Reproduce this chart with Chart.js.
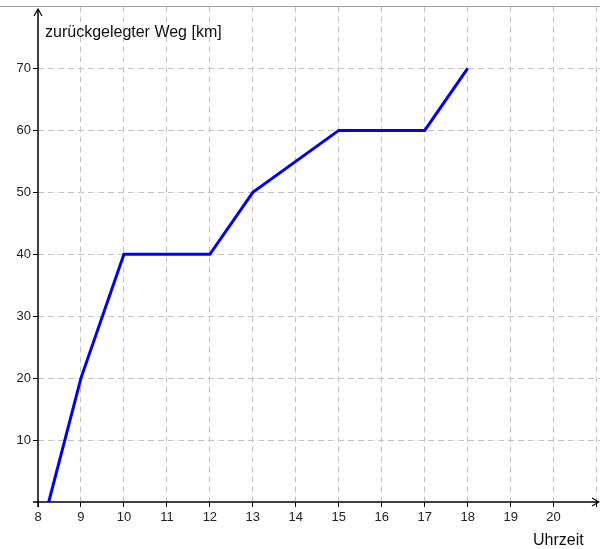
<!DOCTYPE html>
<html>
<head>
<meta charset="utf-8">
<script src="https://cdn.jsdelivr.net/npm/chart.js@4"></script>
<style>
  body { margin: 0; background: #fff; }
  #wrap { width: 600px; height: 549px; }
</style>
</head>
<body>
<div id="wrap"><canvas id="wegChart" width="600" height="549"></canvas></div>
<script>
// Uhrzeit (h) und zurückgelegter Weg (km)
var uhrzeit = [8.25, 9, 10, 12, 13, 15, 17, 18];
var weg = [0, 20, 40, 40, 50, 60, 60, 70];
var xTicks = [8, 9, 10, 11, 12, 13, 14, 15, 16, 17, 18, 19, 20, 21];
var yTicks = [0, 10, 20, 30, 40, 50, 60, 70, 80];
var yTitle = 'zurückgelegter Weg [km]';
var xTitle = 'Uhrzeit';

var FONT = '"Liberation Sans", Arial, sans-serif';

// axes with arrows, top frame line and axis titles
var axesPlugin = {
    id: 'axesPlugin',
    afterDraw: function(chart) {
        var ctx = chart.ctx;
        var x0 = chart.scales.x.getPixelForValue(8);
        var y0 = chart.scales.y.getPixelForValue(0);
        ctx.save();
        ctx.strokeStyle = '#a0a0a0';
        ctx.lineWidth = 1;
        ctx.beginPath();
        ctx.moveTo(0, 6.5);
        ctx.lineTo(600, 6.5);
        ctx.stroke();

        ctx.strokeStyle = '#000';
        ctx.lineWidth = 1.5;
        ctx.beginPath();
        ctx.moveTo(x0, y0 + 5);
        ctx.lineTo(x0, 10);
        ctx.moveTo(x0 - 5, y0);
        ctx.lineTo(598, y0);
        ctx.stroke();
        // arrow heads
        ctx.lineWidth = 1.2;
        ctx.beginPath();
        ctx.moveTo(x0 - 4, 16);
        ctx.lineTo(x0, 9);
        ctx.lineTo(x0 + 4, 16);
        ctx.moveTo(592, y0 - 4);
        ctx.lineTo(599, y0);
        ctx.lineTo(592, y0 + 4);
        ctx.stroke();

        ctx.font = '16px ' + FONT;
        ctx.fillStyle = '#111';
        ctx.textBaseline = 'alphabetic';
        ctx.textAlign = 'left';
        ctx.fillText(yTitle, 45, 37);
        ctx.fillText(xTitle, 533, 545);
        ctx.restore();
    }
};

function gridColor(ctx, skip) {
    var v = ctx.tick ? ctx.tick.value : null;
    if (skip.indexOf(v) >= 0) return 'rgba(0,0,0,0)';
    return '#c4c4c4';
}

var ctx = document.getElementById('wegChart').getContext('2d');
var wegChart = new Chart(ctx, {
    type: 'line',
    data: {
        datasets: [{
            data: uhrzeit.map(function(t, i) { return { x: t, y: weg[i] }; }),
            borderColor: 'rgb(0, 0, 255)',
            borderWidth: 3,
            pointRadius: 0,
            tension: 0,
            fill: false
        }]
    },
    options: {
        responsive: false,
        animation: false,
        layout: { padding: { top: 6.5, right: 0, left: 0, bottom: 0 } },
        plugins: {
            legend: { display: false },
            tooltip: { enabled: false }
        },
        scales: {
            x: {
                type: 'linear',
                min: 8,
                max: 21.08,
                afterBuildTicks: function(scale) {
                    scale.ticks = xTicks.map(function(v) { return { value: v }; });
                },
                afterFit: function(scale) {
                    scale.height = 47;
                    scale.paddingLeft = 0;
                    scale.paddingRight = 0;
                },
                ticks: {
                    font: { family: FONT, size: 13 },
                    color: '#222',
                    padding: 3,
                    maxRotation: 0,
                    autoSkip: false,
                    callback: function(v) { return v <= 20 ? String(v) : ''; }
                },
                grid: {
                    color: function(c) { return gridColor(c, [8]); },
                    lineWidth: 1,
                    tickLength: 5,
                    tickColor: '#000',
                    tickBorderDash: []
                },
                border: { display: false, dash: [6, 4] }
            },
            y: {
                type: 'linear',
                min: 0,
                max: 80,
                afterBuildTicks: function(scale) {
                    scale.ticks = yTicks.map(function(v) { return { value: v }; });
                },
                afterFit: function(scale) {
                    scale.width = 38;
                    scale.paddingTop = 0;
                    scale.paddingBottom = 0;
                },
                ticks: {
                    font: { family: FONT, size: 13 },
                    color: '#222',
                    padding: 2,
                    callback: function(v) { return (v > 0 && v < 80) ? String(v) : ''; }
                },
                grid: {
                    color: function(c) { return gridColor(c, [0, 80]); },
                    lineWidth: 1,
                    tickLength: 5,
                    tickColor: function(c) { return (c.tick && (c.tick.value === 0 || c.tick.value === 80)) ? 'rgba(0,0,0,0)' : '#000'; },
                    tickBorderDash: []
                },
                border: { display: false, dash: [6, 4] }
            }
        }
    },
    plugins: [axesPlugin]
});
</script>
</body>
</html>
